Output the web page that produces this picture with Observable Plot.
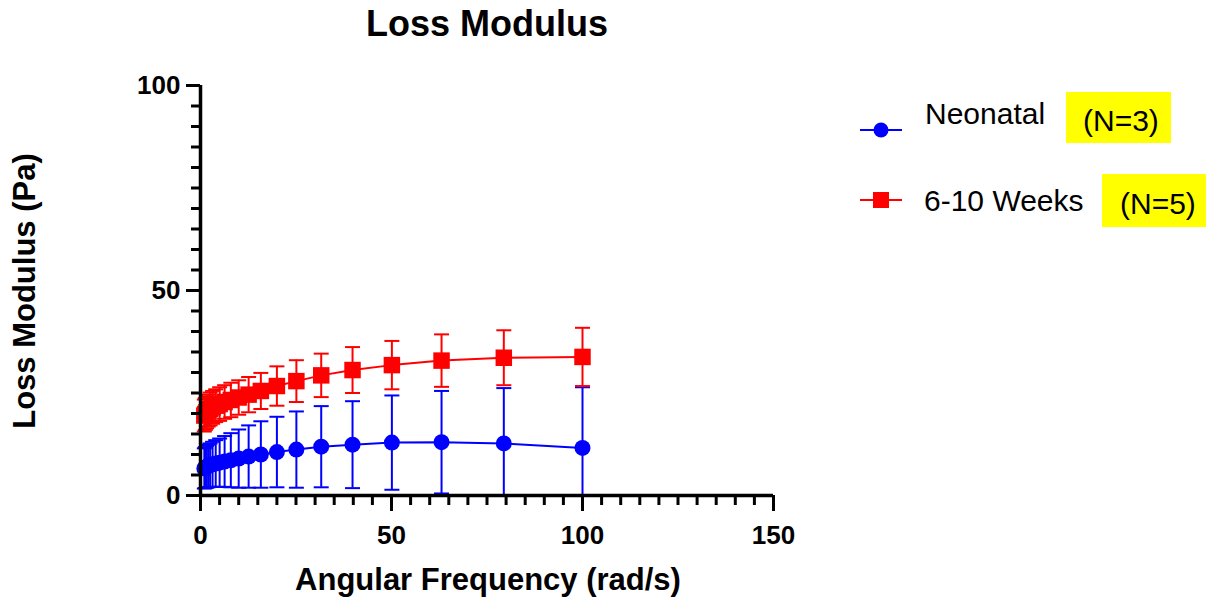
<!DOCTYPE html>
<html>
<head>
<meta charset="utf-8">
<script src="https://cdn.jsdelivr.net/npm/d3@7"></script>
<script src="https://cdn.jsdelivr.net/npm/@observablehq/plot@0.6"></script>
<style>
  html, body { margin: 0; padding: 0; background: #fff; }
  body { font-family: "Liberation Sans", Arial, sans-serif; color: #000; }
  #wrap { position: relative; width: 1206px; height: 602px; overflow: hidden; }
  #chart { position: absolute; left: 0; top: 0; }
  .abs { position: absolute; white-space: nowrap; line-height: 1; }
  .title { font-size: 36px; font-weight: bold; }
  .axtitle { font-size: 31px; font-weight: bold; }
  .leg { font-size: 30px; }
  .hl { background: #ffff00; }
</style>
</head>
<body>
<div id="wrap">
  <div id="chart"></div>
  <div class="abs title" id="title" style="left:487px; top:6px; transform:translateX(-50%);">Loss Modulus</div>
  <div class="abs axtitle" id="xtitle" style="left:488px; top:564px; transform:translateX(-50%);">Angular Frequency (rad/s)</div>
  <div class="abs axtitle" id="ytitle" style="left:24px; top:291px; transform:translate(-50%,-50%) rotate(-90deg);">Loss Modulus (Pa)</div>
  <!-- legend -->
  <svg class="abs" style="left:858px; top:118px;" width="46" height="24">
    <line x1="2" y1="12" x2="44" y2="12" stroke="#0000ff" stroke-width="2"/>
    <circle cx="23" cy="12" r="7.5" fill="#0000ff"/>
  </svg>
  <div class="abs leg" style="left:925px; top:99px;">Neonatal</div>
  <div class="abs hl" style="left:1066px; top:92px; width:105px; height:51px;"></div>
  <div class="abs leg" style="left:1083px; top:106px;">(N=3)</div>
  <svg class="abs" style="left:858px; top:188px;" width="46" height="24">
    <line x1="2" y1="12" x2="44" y2="12" stroke="#ff0000" stroke-width="2"/>
    <rect x="15" y="4" width="16" height="16" fill="#ff0000"/>
  </svg>
  <div class="abs leg" style="left:924px; top:186px;">6-10 Weeks</div>
  <div class="abs hl" style="left:1102px; top:174px; width:104px; height:53px;"></div>
  <div class="abs leg" style="left:1120px; top:189px;">(N=5)</div>
</div>
<script>
// ---- data ----
const freq = [1, 1.26, 1.58, 2, 2.51, 3.16, 3.98, 5.01, 6.31, 7.94, 10, 12.6, 15.8, 20, 25.1, 31.6, 39.8, 50.1, 63.1, 79.4, 100];
const neonatalMean = [6.6, 6.8, 7.0, 7.2, 7.4, 7.6, 7.8, 8.0, 8.3, 8.6, 9.0, 9.5, 10.0, 10.6, 11.2, 11.9, 12.4, 12.9, 13.0, 12.7, 11.6];
const neonatalSD   = [4.9, 5.0, 5.1, 5.2, 5.3, 5.5, 5.7, 5.9, 6.2, 6.6, 7.1, 7.6, 8.1, 8.6, 9.3, 9.9, 10.6, 11.5, 12.5, 13.5, 14.8];
const weeksMean = [19.5, 19.9, 20.3, 20.7, 21.1, 21.5, 21.9, 22.3, 22.8, 23.3, 23.9, 24.6, 25.5, 26.7, 27.9, 29.3, 30.6, 31.8, 32.9, 33.6, 33.8];
const weeksSD   = [3.9, 3.9, 3.9, 3.9, 4.0, 4.0, 4.0, 4.1, 4.1, 4.2, 4.2, 4.3, 4.4, 4.8, 5.1, 5.3, 5.6, 5.9, 6.4, 6.7, 7.1];
const seriesNames = ["Neonatal", "6-10 Weeks"];
const seriesColors = ["#0000ff", "#ff0000"];
const xMajorTicks = [0, 50, 100, 150];
const xMinorTicks = d3.range(0, 151, 5);
const yMajorTicks = [0, 50, 100];
const yMinorTicks = d3.range(0, 101, 5);

// ---- build table ----
function rows(name, means, sds) {
  return freq.map((f, i) => ({
    series: name, x: f, y: means[i],
    lo: means[i] - sds[i], hi: means[i] + sds[i]
  }));
}
const neo = rows(seriesNames[0], neonatalMean, neonatalSD);
const wk = rows(seriesNames[1], weeksMean, weeksSD);

const capSymbol = {
  draw(context, size) {
    const w = Math.sqrt(size / Math.PI);
    context.moveTo(-w, 0);
    context.lineTo(w, 0);
  }
};

function seriesMarks(data, color, symbol, r) {
  return [
    Plot.ruleX(data, {x: "x", y1: d => Math.max(0, d.lo), y2: "hi", stroke: color, strokeWidth: 2}),
    Plot.dot(data, {x: "x", y: "hi", symbol: capSymbol, r: 7.5, stroke: color, strokeWidth: 2, fill: "none"}),
    Plot.dot(data.filter(d => d.lo >= 0), {x: "x", y: "lo", symbol: capSymbol, r: 7.5, stroke: color, strokeWidth: 2, fill: "none"}),
    Plot.line(data, {x: "x", y: "y", stroke: color, strokeWidth: 2}),
    Plot.dot(data, {x: "x", y: "y", symbol, r, fill: color, stroke: "none"})
  ];
}

const textOpts = {fontSize: 26, fontWeight: "bold", fontFamily: "Liberation Sans, Arial, sans-serif"};

const chart = Plot.plot({
  width: 1206,
  height: 602,
  marginLeft: 200,
  marginRight: 433,
  marginTop: 85,
  marginBottom: 107,
  x: {domain: [0, 150]},
  y: {domain: [0, 100]},
  style: {fontFamily: "Liberation Sans, Arial, sans-serif", background: "transparent", color: "#000", overflow: "visible"},
  marks: [
    ...seriesMarks(neo, seriesColors[0], "circle", 8),
    ...seriesMarks(wk, seriesColors[1], "square", 9.3),
    Plot.axisX(xMinorTicks, {tickSize: 10, strokeWidth: 3, tickFormat: () => "", label: null}),
    Plot.axisX(xMajorTicks, {tickSize: 16, strokeWidth: 3, tickPadding: 14, label: null, ...textOpts}),
    Plot.axisY(yMinorTicks, {tickSize: 9, strokeWidth: 3, tickFormat: () => "", label: null}),
    Plot.axisY(yMajorTicks, {tickSize: 14, strokeWidth: 3, tickPadding: 6, label: null, ...textOpts}),
    Plot.ruleX([0], {strokeWidth: 3.5, stroke: "#000"}),
    Plot.ruleY([0], {strokeWidth: 3.5, stroke: "#000"})
  ]
});
document.getElementById("chart").appendChild(chart);
</script>
</body>
</html>
